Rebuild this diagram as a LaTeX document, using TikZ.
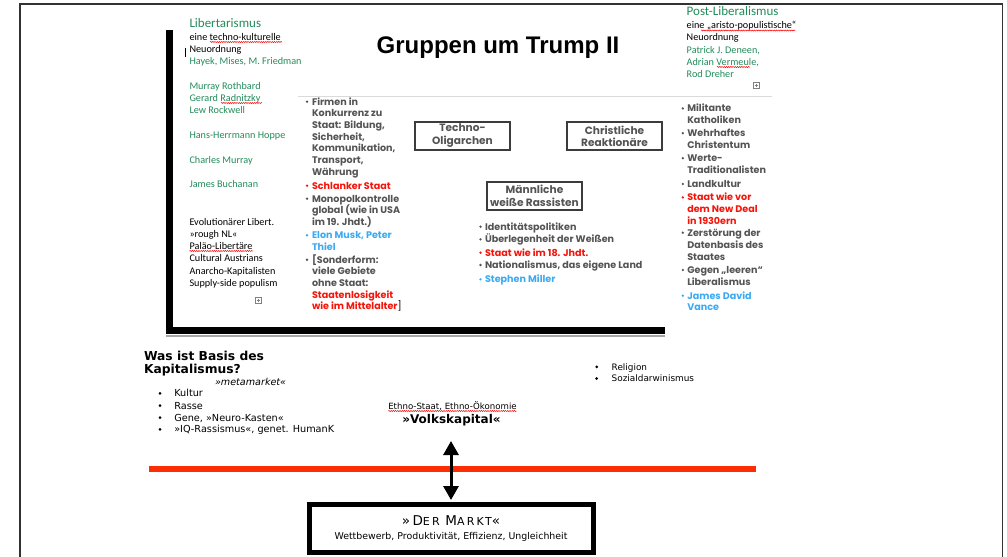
\documentclass[tikz,border=0pt]{standalone}
\usepackage{fontspec}
\setmainfont{Liberation Sans}
\newfontfamily\carl{Carlito}
\newfontfamily\popp{Poppins}
\newfontfamily\dvs{DejaVu Sans}
\newfontfamily\dvsls{DejaVu Sans}[LetterSpace=20]
\usetikzlibrary{arrows.meta,decorations.pathmorphing,calc}
\definecolor{libgreen}{RGB}{34,139,90}
\definecolor{txtgray}{RGB}{84,84,84}
\definecolor{boxgray}{RGB}{60,60,60}
\definecolor{hred}{RGB}{245,20,10}
\definecolor{hblue}{RGB}{60,170,240}
\definecolor{linered}{RGB}{250,45,5}
\definecolor{framegray}{RGB}{50,50,50}
\definecolor{slidegray}{RGB}{218,218,218}
\tikzset{
 every node/.style={inner sep=0pt, outer sep=0pt},
 libtxt/.style={font=\carl\fontsize{10.2}{12}\selectfont, anchor=base west},
 libhead/.style={font=\carl\fontsize{13}{15}\selectfont, anchor=base west, text=libgreen},
 grp/.style={font=\popp\bfseries\fontsize{9.6}{11}\selectfont, anchor=base west},
 grpbox/.style={draw=boxgray, line width=1.6pt, minimum width=95pt, minimum height=28pt, align=center, font=\popp\bfseries\fontsize{10.6}{12.4}\selectfont, text=txtgray},
 basis/.style={font=\dvs\fontsize{9.7}{11}\selectfont, anchor=base west},
 squig/.style={draw=red, line width=0.5pt, decorate, decoration={snake, amplitude=0.55pt, segment length=2.2pt}},
 plusbox/.style={draw=gray, line width=0.5pt},
}
\begin{document}
\begin{tikzpicture}[x=1pt,y=-1pt]
\useasboundingbox (0,0) rectangle (1007,557);
% outer page frame
\draw[framegray, line width=1.2pt] (20,560) -- (20,4) -- (1002.7,4) -- (1002.7,560);
% slide frame
\draw[slidegray, line width=1.5pt] (298,96.5) -- (772,96.5);
\draw[gray!70, line width=1.5pt] (166,336) -- (665,336);
\draw[black, line width=7pt] (169,30) -- (169,330.5) -- (665,330.5);
\draw[black, line width=0.7pt] (185,48) -- (185,57);

% title
\node[font=\bfseries\fontsize{24}{28}\selectfont, anchor=base] (title) at (498,53) {Gruppen um Trump II};

% Libertarismus column
\node[libhead] (libhead) at (189.5,27) {Libertarismus};
\foreach \y/\c/\txt [count=\i] in {
 40/black/{eine techno-kulturelle},
 52/black/Neuordnung,
 64/libgreen/{Hayek, Mises, M. Friedman},
 89/libgreen/{Murray Rothbard},
 101/libgreen/{Gerard Radnitzky},
 113/libgreen/{Lew Rockwell},
 138/libgreen/{Hans-Herrmann Hoppe},
 163/libgreen/{Charles Murray},
 187/libgreen/{James Buchanan},
 225/black/{Evolutionärer Libert.},
 237/black/{»rough NL«},
 249/black/{Paläo-Libertäre},
 261/black/{Cultural Austrians},
 274/black/{Anarcho-Kapitalisten},
 286/black/{Supply-side populism}}
 \node[libtxt, text=\c] (lib\i) at (189.5,\y) {\txt};

% Post-Liberalismus column
\node[libhead] (posthead) at (686.7,15) {Post-Liberalismus};
\foreach \y/\c/\txt [count=\i] in {
 28.3/black/{eine „aristo-populistische“},
 40.7/black/Neuordnung,
 53.3/libgreen/{Patrick J. Deneen,},
 65/libgreen/{Adrian Vermeule,},
 77.3/libgreen/{Rod Dreher}}
 \node[libtxt, text=\c] (post\i) at (686.7,\y) {\txt};

% plus boxes
\draw[plusbox] (255,297) rectangle (261,303) (256.5,300) -- (259.5,300) (258,298.5) -- (258,301.5);
\draw[plusbox] (753,82) rectangle (759,88) (754.5,85) -- (757.5,85) (756,83.5) -- (756,86.5);

% spell-check squiggles
\draw[squig] (210,42) -- (282,42);
\draw[squig] (221,103) -- (262,103);
\draw[squig] (189.5,251) -- (253,251);
\draw[squig] (701,30.5) -- (795,30.5);
\draw[squig] (717,67) -- (750,67);
\draw[squig] (388.3,411) -- (516.7,411);

% Techno column
\foreach \y/\c/\b/\txt [count=\i] in {
 105/txtgray/1/{Firmen in},
 116.7/txtgray/0/{Konkurrenz zu},
 128.4/txtgray/0/{Staat: Bildung,},
 140.1/txtgray/0/{Sicherheit,},
 151.8/txtgray/0/{Kommunikation,},
 163.5/txtgray/0/{Transport,},
 175.2/txtgray/0/{Währung},
 189/hred/1/{Schlanker Staat},
 202/txtgray/1/{Monopolkontrolle},
 213.7/txtgray/0/{global (wie in USA},
 225.4/txtgray/0/{im 19. Jhdt.)},
 238.5/hblue/1/{Elon Musk, Peter},
 250.2/hblue/0/{Thiel},
 263/txtgray/1/{[Sonderform:},
 274.7/txtgray/0/{viele Gebiete},
 286.4/txtgray/0/{ohne Staat:},
 298.1/hred/0/{Staatenlosigkeit},
 309.8/hred/0/{wie im Mittelalter{\color{black}\mdseries]}}}
 {\node[grp, text=\c] (tech\i) at (312,\y) {\txt};
  \ifnum\b=1 \fill[\c] ($(tech\i.base west)+(-5,-3.3)$) circle (1.3pt);\fi}

% boxes
\node[grpbox] (techno) at (462.5,135.7) {Techno-\\Oligarchen};
\node[grpbox] (christ) at (614.5,136) {Christliche\\Reaktionäre};
\node[grpbox] (rass) at (534.5,196) {Männliche\\weiße Rassisten};

% Rassisten bullets
\foreach \y/\c/\txt [count=\i] in {
 230/txtgray/{Identitätspolitiken},
 242.7/txtgray/{Überlegenheit der Weißen},
 256/hred/{Staat wie im 18. Jhdt.},
 268.3/txtgray/{Nationalismus, das eigene Land},
 282.7/hblue/{Stephen Miller}}
 {\node[grp, text=\c] (rs\i) at (485,\y) {\txt};
  \fill[\c] ($(rs\i.base west)+(-4.5,-3.3)$) circle (1.3pt);}

% Christliche bullets
\foreach \y/\c/\b/\txt [count=\i] in {
 111.7/txtgray/1/{Militante},
 123.4/txtgray/0/{Katholiken},
 136.5/txtgray/1/{Wehrhaftes},
 148.3/txtgray/0/{Christentum},
 161.5/txtgray/1/{Werte-},
 173.4/txtgray/0/{Traditionalisten},
 187.3/txtgray/1/{Landkultur},
 200.7/hred/1/{Staat wie vor},
 212.3/hred/0/{dem New Deal},
 224/hred/0/{in 1930ern},
 236/txtgray/1/{Zerstörung der},
 248.3/txtgray/0/{Datenbasis des},
 260.7/txtgray/0/{Staates},
 273.3/txtgray/1/{Gegen „leeren“},
 285/txtgray/0/{Liberalismus},
 299/hblue/1/{James David},
 310.5/hblue/0/{Vance}}
 {\node[grp, text=\c] (ch\i) at (687.3,\y) {\txt};
  \ifnum\b=1 \fill[\c] ($(ch\i.base west)+(-4.5,-3.3)$) circle (1.3pt);\fi}

% bottom: Basis des Kapitalismus
\node[font=\dvs\bfseries\fontsize{12.3}{14}\selectfont, anchor=base west] (basis1) at (144,360) {Was ist Basis des};
\node[font=\dvs\bfseries\fontsize{12.3}{14}\selectfont, anchor=base west] (basis2) at (144,373.3) {Kapitalismus?};
\node[font=\dvs\itshape\fontsize{9.6}{11}\selectfont, anchor=base west] (meta) at (215,385.7) {»metamarket«};
\foreach \y/\txt [count=\i] in {
 396.7/Kultur,
 409/Rasse,
 421/{Gene, »Neuro-Kasten«},
 432.7/{»IQ-Rassismus«, genet. HumanK}}
 {\node[basis] (bl\i) at (174.3,\y) {\txt};
  \fill ($(bl\i.base west)+(-14.3,-3.3)$) circle (1.5pt);}
\foreach \y/\txt [count=\i] in {
 370/Religion,
 381.7/Sozialdarwinismus}
 {\node[basis, font=\dvs\fontsize{8.9}{10}\selectfont] (br\i) at (611.7,\y) {\txt};
  \fill ($(br\i.base west)+(-15,-3.2)$) circle (1.5pt);}

\node[font=\dvs\fontsize{8.6}{10}\selectfont, anchor=base west] (ethno) at (388.3,409) {Ethno-Staat, Ethno-Ökonomie};
\node[font=\dvs\bfseries\fontsize{12}{14}\selectfont, anchor=base west] (volk) at (402.3,423.3) {»Volkskapital«};

% red line
\coordinate (rl) at (149,469);
\coordinate (rr) at (756,469);
\draw[linered, line width=6pt] (rl) -- (rr);

% Markt box
\node[draw, line width=5pt, minimum width=284pt, minimum height=48pt] (market) at (451,528.5) {};
\node[font=\dvsls, anchor=base] (mk1) at (451,525) {\fontsize{13.5}{16}\selectfont »D\fontsize{11}{14}\selectfont ER \fontsize{13.5}{16}\selectfont M\fontsize{11}{14}\selectfont ARKT\fontsize{13.5}{16}\selectfont «};
\node[font=\dvs\fontsize{9.4}{11}\selectfont, anchor=base] (mk2) at (451,539.3) {Wettbewerb, Produktivität, Effizienz, Ungleichheit};

% double arrow
\coordinate (atop) at (451,441);
\draw[line width=3pt, {Triangle[width=15pt,length=14pt]}-{Triangle[width=15pt,length=14pt]}, shorten >=4.5pt] (atop) -- (market.north);
\end{tikzpicture}
\end{document}
